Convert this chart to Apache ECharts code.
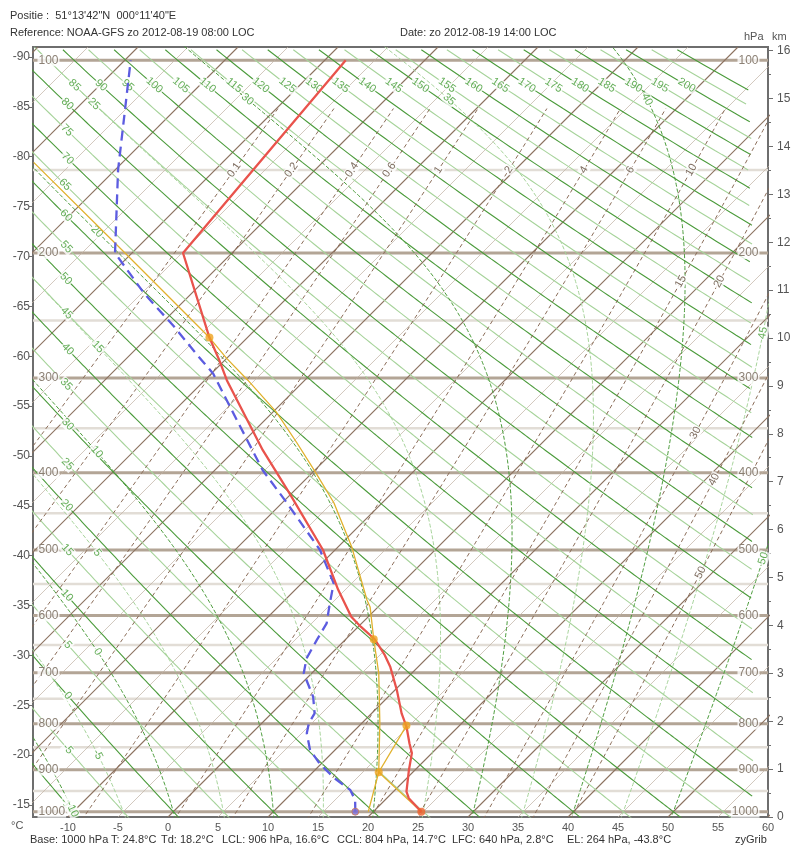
<!DOCTYPE html>
<html>
<head>
<meta charset="utf-8">
<script src="https://cdn.jsdelivr.net/npm/echarts@6/dist/echarts.min.js"></script>
<style>
html, body { margin: 0; padding: 0; background: #fff; }
#main { width: 800px; height: 850px; }
</style>
</head>
<body>
<div id="main"></div>
<script>
// sounding: pressure (hPa) and temperature (degC)
var tempP = [1000, 967, 951, 901, 863, 842, 806, 779, 733, 689, 668, 640, 619, 602, 559, 500, 425, 374, 302, 284, 264, 200, 100];
var tempT = [24.8, 22.2, 21.3, 19.4, 18.0, 16.8, 14.8, 13.0, 10.2, 7.2, 5.5, 2.9, 0.3, -1.7, -5.7, -11.2, -20.2, -27.2, -37.8, -40.5, -43.8, -54.9, -57.9];
var dewP = [1000, 971, 947, 920, 886, 856, 820, 799, 779, 746, 701, 674, 642, 613, 580, 549, 500, 437, 397, 328, 296, 278, 255, 229, 200, 150, 100];
var dewT = [18.2, 17.0, 15.5, 12.8, 9.8, 7.5, 5.5, 4.7, 4.3, 2.5, -0.8, -2.0, -2.8, -3.5, -5.2, -6.8, -11.5, -19.5, -25.2, -34.8, -39.8, -43.5, -48.4, -54.7, -61.7, -69.7, -79.4];
// lifted parcel
var parcelP = [1000, 906, 799, 701, 640, 586, 575, 495, 437, 401, 366, 333, 302, 282, 264, 200, 146];
var parcelT = [19.5, 16.6, 11.8, 6.7, 2.8, -0.8, -1.8, -8.7, -14.8, -19.5, -24.5, -29.7, -35.7, -40.0, -43.8, -60.7, -78.9];
var liftP = [1000, 906];
var liftT = [24.8, 16.6];
var cclP = [906, 804];
var cclT = [16.6, 14.7];
// special points: LCL, CCL, LFC, EL
var levelP = [906, 804, 640, 264];
var levelT = [16.6, 14.7, 2.8, -43.8];

// diagram furniture
var isobarMajor = [100, 200, 300, 400, 500, 600, 700, 800, 900, 1000];
var isobarMinor = [150, 250, 350, 450, 550, 650, 750, 850, 950];
var isotherms = [-90, -85, -80, -75, -70, -65, -60, -55, -50, -45, -40, -35, -30, -25, -20, -15, -10, -5, 0, 5, 10, 15, 20, 25, 30, 35, 40, 45, 50, 55, 60];
var dryTheta = [-10, -5, 0, 5, 10, 15, 20, 25, 30, 35, 40, 45, 50, 55, 60, 65, 70, 75, 80, 85, 90, 95, 100, 105, 110, 115, 120, 125, 130, 135, 140, 145, 150, 155, 160, 165, 170, 175, 180, 185, 190, 195, 200, 205, 210];
var moistTheta = [-10, -5, 0, 5, 10, 15, 20, 25, 30, 35, 40, 45, 50];
var mixRatio = [0.1, 0.2, 0.4, 0.6, 1, 2, 4, 6, 10, 15, 20, 30, 40, 50];
var mixLabelP = [150, 150, 150, 150, 150, 150, 150, 150, 150, 220, 220, 355, 408, 533];
var xTicks = [-10, -5, 0, 5, 10, 15, 20, 25, 30, 35, 40, 45, 50, 55, 60];
var leftTicks = [-90, -85, -80, -75, -70, -65, -60, -55, -50, -45, -40, -35, -30, -25, -20, -15];
var kmTicks = [0, 1, 2, 3, 4, 5, 6, 7, 8, 9, 10, 11, 12, 13, 14, 15, 16];
var kmMinor = [0.5, 1.5, 2.5, 3.5, 4.5, 5.5, 6.5, 7.5, 8.5, 9.5, 10.5, 11.5, 12.5, 13.5, 14.5, 15.5];

var X_MIN = -13.5, X_MAX = 60;
var H_TOP = 16.075;     // km at top of frame
var K = 4.79;           // skew, degC per km (45 degrees on screen)
var PXX = 10, PXH = 47.9;
var FONT = 'Liberation Sans, Arial, sans-serif';

function hgt(p) { return 44.3308 * (1 - Math.pow(p / 1013.25, 0.190263)); }
function pt(p, t) { var h = hgt(p); return [t + K * h, h, p]; }
function es(t) { return 6.112 * Math.exp(17.67 * t / (t + 243.5)); }
function tdFromW(w, p) {
    var l = Math.log(p * w / (622 + w) / 6.112);
    return 243.5 * l / (17.67 - l);
}
function dTdp(p, tk) {
    var e = es(tk - 273.15), r = 0.622 * e / (p - e);
    return (287.04 * tk + 2.501e6 * r) / (p * (1005.7 + 2.501e6 * 2.501e6 * r * 0.622 / (287.04 * tk * tk)));
}
function rk4(p, t, dp) {
    var k1 = dTdp(p, t), k2 = dTdp(p + dp / 2, t + dp / 2 * k1);
    var k3 = dTdp(p + dp / 2, t + dp / 2 * k2), k4 = dTdp(p + dp, t + dp * k3);
    return t + dp / 6 * (k1 + 2 * k2 + 2 * k3 + k4);
}
function dryCurve(th) {
    var c = [];
    for (var p = 1050; p >= 95; p -= 2) {
        var q = pt(p, (th + 273.15) * Math.pow(p / 1000, 0.2857) - 273.15);
        if (q[0] <= 58.5) c.push(q);   // the green lines stop short of the right edge
    }
    return c;
}
function moistCurve(tw) {
    var c = [], t = tw + 273.15, p = 1000;
    for (var pb = 1000, tb = t; pb < 1050; pb += 5) { tb = rk4(pb, tb, 5); c.unshift(pt(pb + 5, tb - 273.15)); }
    c.push(pt(1000, tw));
    while (p > 95) { t = rk4(p, t, -2); p -= 2; c.push(pt(p, t - 273.15)); }
    return c;
}
function mixCurve(w) {
    var c = [];
    for (var p = 1050; p >= 113; p -= 10) c.push(pt(p, tdFromW(w, p)));
    return c;
}
function angleAt(a, b) {
    var ang = Math.atan2((b[1] - a[1]) * PXH, (b[0] - a[0]) * PXX) * 180 / Math.PI;
    if (ang > 90) ang -= 180;
    if (ang < -90) ang += 180;
    return ang;
}
function findLabel(c, test, text) {
    for (var i = 2; i < c.length - 2; i++) {
        var q = c[i];
        if (q[0] < X_MIN + 1 || q[0] > X_MAX || q[1] < 0.15 || q[1] > H_TOP - 0.3) continue;
        if (test(q)) return { name: text, value: [q[0], q[1]], label: { rotate: angleAt(c[i - 2], c[i + 2]) } };
    }
    return null;
}
function xy(c) { return c.map(function (q) { return [q[0], q[1]]; }); }

var series = [];
function addLine(data, color, width, type, z) {
    series.push({
        type: 'line', data: data, symbol: 'none', silent: true, z: z, clip: true,
        lineStyle: { color: color, width: width, type: type }
    });
}
function addLabels(items, color, z, extra) {
    var lab = { show: true, position: 'inside', color: color, fontSize: 11, fontFamily: FONT, formatter: '{b}', backgroundColor: '#fff', padding: [0, 1] };
    for (var k in (extra || {})) lab[k] = extra[k];
    series.push({
        type: 'scatter', data: items, symbolSize: 1, silent: true, z: z, clip: true,
        itemStyle: { color: 'rgba(0,0,0,0)' }, label: lab
    });
}

// isobars
isobarMinor.forEach(function (p) { addLine([[X_MIN, hgt(p)], [X_MAX, hgt(p)]], '#e2ddd6', 2.5, 'solid', 1); });
isobarMajor.forEach(function (p) { addLine([[X_MIN, hgt(p)], [X_MAX, hgt(p)]], '#b3a596', 3, 'solid', 1); });
// isotherms
isotherms.forEach(function (t) {
    var dark = t % 10 === 0;
    addLine([[t, 0], [t + K * H_TOP, H_TOP]], dark ? '#8c7260' : '#bfb0a2', dark ? 1.1 : 0.7, 'solid', 2);
});
// dry adiabats
var dryLab = [];
dryTheta.forEach(function (th) {
    var c = dryCurve(th), dark = th % 10 === 0;
    addLine(xy(c), dark ? '#4b9b3b' : '#a6d39a', 1.1, 'solid', 2);
    if (th <= 200) {
        var l = findLabel(c, function (q) { return q[0] <= -10 || q[2] <= 110; }, String(th));
        if (l) dryLab.push(l);
    }
});
// moist adiabats
var moistLab = [];
moistTheta.forEach(function (tw) {
    var c = moistCurve(tw), dark = tw % 10 === 0;
    addLine(xy(c), dark ? '#4b9b3b' : '#a6d39a', 1, [4, 2], 2);
    var l = findLabel(c, function (q) { return q[0] <= -7 || q[2] <= 116 || q[0] >= 59.5; }, String(tw));
    if (l) moistLab.push(l);
});
// mixing ratio lines
var mixLab = [];
mixRatio.forEach(function (w, i) {
    addLine(xy(mixCurve(w)), '#8a6c58', 1, [4, 3], 2);
    var p = mixLabelP[i], a = pt(p + 5, tdFromW(w, p + 5)), b = pt(p - 5, tdFromW(w, p - 5)), q = pt(p, tdFromW(w, p));
    mixLab.push({ name: String(w), value: [q[0], q[1]], label: { rotate: angleAt(a, b) } });
});

addLabels(dryLab, '#3f9a2f', 4);
addLabels(moistLab, '#3f9a2f', 4);
addLabels(mixLab, '#5e4838', 4);
// pressure labels at both sides
addLabels(isobarMajor.map(function (p) { return { name: String(p), value: [X_MIN, hgt(p)] }; }), '#6f6252', 4, { position: 'right', distance: 4, fontSize: 12 });
addLabels(isobarMajor.map(function (p) { return { name: String(p), value: [X_MAX, hgt(p)] }; }), '#6f6252', 4, { position: 'left', distance: 8, fontSize: 12 });

function prof(P, T) { return P.map(function (p, i) { var q = pt(p, T[i]); return [q[0], q[1]]; }); }
// parcel
series.push({ type: 'line', data: prof(parcelP, parcelT), symbol: 'none', silent: true, z: 8, lineStyle: { color: '#e1b12c', width: 1.3 } });
series.push({ type: 'line', data: prof(liftP, liftT), symbol: 'none', silent: true, z: 8, lineStyle: { color: '#e1b12c', width: 1.3 } });
series.push({ type: 'line', data: prof(cclP, cclT), symbol: 'none', silent: true, z: 8, lineStyle: { color: '#e1b12c', width: 1.3 } });
// temperature and dew point
series.push({ type: 'line', data: prof(dewP, dewT), symbol: 'none', silent: true, z: 9, lineStyle: { color: '#5c5ce0', width: 2.3, type: [10, 6] } });
series.push({ type: 'line', data: prof(tempP, tempT), symbol: 'none', silent: true, z: 9, lineStyle: { color: '#e9534c', width: 2.3 } });
// dots
series.push({ type: 'scatter', data: prof(levelP, levelT), symbolSize: 8, silent: true, z: 10, itemStyle: { color: '#eea21e' } });
series.push({ type: 'scatter', data: prof([tempP[0]], [tempT[0]]), symbolSize: 8, silent: true, z: 10, itemStyle: { color: '#f0602a' } });
series.push({ type: 'scatter', data: prof([dewP[0]], [dewT[0]]), symbolSize: 7, silent: true, z: 10, itemStyle: { color: '#7c6cd4', borderColor: '#d07a50', borderWidth: 1 } });

var chart = echarts.init(document.getElementById('main'), null, { renderer: 'canvas' });
var txt = { fill: '#333', fontSize: 11, fontFamily: FONT };
function text(x, y, s, extra) {
    var st = { text: s };
    for (var k in txt) st[k] = txt[k];
    for (var k2 in (extra || {})) st[k2] = extra[k2];
    return { type: 'text', left: x, top: y, style: st, silent: true };
}
chart.setOption({
    animation: false,
    backgroundColor: '#fff',
    grid: { left: 33, right: 32, top: 47, bottom: 33, show: true, borderColor: '#6e6e6e', borderWidth: 2, backgroundColor: '#fff' },
    xAxis: {
        type: 'value', min: X_MIN, max: X_MAX,
        axisLine: { show: false, onZero: false }, splitLine: { show: false }, axisTick: { show: false },
        axisLabel: { customValues: xTicks, color: '#555', fontSize: 11, fontFamily: FONT, margin: 5 }
    },
    yAxis: [{
        type: 'value', min: 0, max: H_TOP, position: 'right',
        axisLine: { show: true, onZero: false, lineStyle: { color: '#6e6e6e', width: 2 } },
        splitLine: { show: false },
        axisTick: { customValues: kmTicks, length: 5, lineStyle: { color: '#6e6e6e' } },
        axisLabel: { customValues: kmTicks, color: '#555', fontSize: 12, fontFamily: FONT, margin: 9 }
    }, {
        type: 'value', min: 0, max: H_TOP, position: 'right',
        axisLine: { show: false, onZero: false }, splitLine: { show: false },
        axisTick: { customValues: kmMinor, length: 3, lineStyle: { color: '#6e6e6e' } },
        axisLabel: { show: false }
    }, {
        // temperatures where the isotherms meet the left edge
        type: 'value', min: -91.0, max: -13.8, inverse: true, position: 'left',
        axisLine: { show: false, onZero: false }, splitLine: { show: false },
        axisTick: { customValues: leftTicks, length: 4, lineStyle: { color: '#6e6e6e' } },
        axisLabel: { customValues: leftTicks, color: '#555', fontSize: 12, fontFamily: FONT, margin: 3 }
    }],
    graphic: [
        text(10, 10, 'Positie :  51\u00b013\'42"N  000\u00b011\'40"E'),
        text(10, 27, 'Reference: NOAA-GFS zo 2012-08-19 08:00 LOC'),
        text(400, 27, 'Date: zo 2012-08-19 14:00 LOC'),
        text(744, 31, 'hPa', { fill: '#555' }),
        text(772, 31, 'km', { fill: '#555' }),
        text(11, 820, '\u00b0C', { fill: '#555' }),
        text(30, 834, 'Base: 1000 hPa'),
        text(111, 834, 'T: ' + tempT[0] + '\u00b0C'),
        text(161, 834, 'Td: ' + dewT[0] + '\u00b0C'),
        text(222, 834, 'LCL: ' + levelP[0] + ' hPa, ' + levelT[0] + '\u00b0C'),
        text(337, 834, 'CCL: ' + levelP[1] + ' hPa, ' + levelT[1] + '\u00b0C'),
        text(452, 834, 'LFC: ' + levelP[2] + ' hPa, ' + levelT[2] + '\u00b0C'),
        text(567, 834, 'EL: ' + levelP[3] + ' hPa, ' + levelT[3] + '\u00b0C'),
        text(735, 834, 'zyGrib')
    ],
    series: series
});
</script>
</body>
</html>
